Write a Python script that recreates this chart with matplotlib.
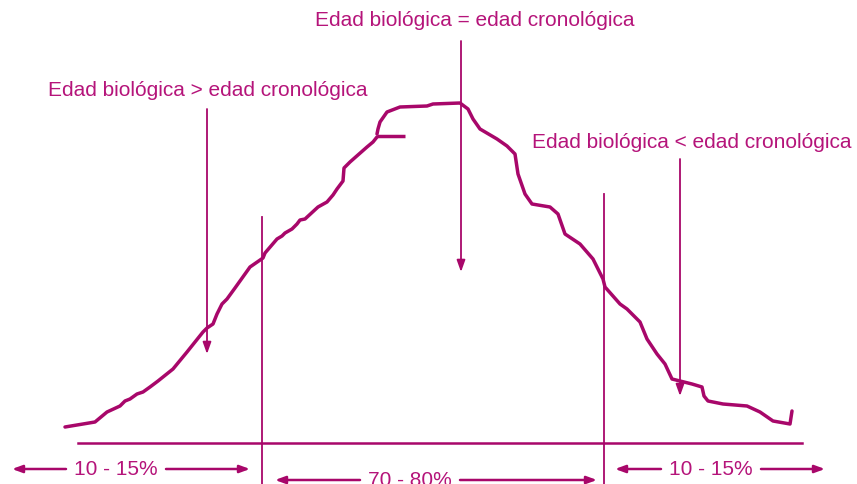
"""Distribución edad biológica vs cronológica (esquema dibujado a mano)."""
import matplotlib
matplotlib.use("Agg")
import matplotlib.pyplot as plt

C = "#a8076a"
C_TXT = "#b5147a"
plt.rcParams["font.family"] = ["Liberation Sans", "DejaVu Sans"]

# curva principal (coordenadas en píxeles de la imagen, y hacia abajo)
curve_x = [65, 95, 107, 120, 125, 130, 137, 143, 150, 158, 173, 187, 203, 207, 213, 217, 222, 227,
           235, 245, 250, 263, 265, 277, 282, 285, 292, 297, 300, 305, 318, 327, 333, 337, 343, 344,
           350, 367, 373, 377]
curve_y = [428, 423, 413, 407, 402, 400, 395, 393, 388, 382, 370, 353, 333, 329, 325, 315, 305, 300,
           289, 275, 268, 259, 254, 240, 237, 234, 230, 225, 221, 220, 208, 203, 196, 190, 182, 169,
           163, 148, 143, 138]
# rizo en la cima y bajada derecha
hook_x = [377, 378, 380, 387, 400, 427, 433, 460, 468, 473, 480, 497, 507, 515, 518, 525, 532, 550,
          558, 565, 580, 593, 598, 603, 605, 620, 627, 640, 647, 657, 665, 672, 680, 692, 702, 704,
          708, 723, 747, 760, 773, 790, 792]
hook_y = [135, 130, 123, 113, 108, 107, 105, 104, 110, 120, 130, 140, 147, 155, 175, 195, 205, 208,
          215, 235, 245, 260, 270, 280, 288, 305, 310, 323, 340, 355, 365, 380, 382, 385, 388, 397,
          402, 405, 407, 413, 422, 425, 412]
tick_x = [377, 405]
tick_y = [137, 137]

# líneas verticales de corte y flechas de etiqueta
cut_x = [262, 604]
cut_top = [218, 195]
label_arrow_x = [207, 461, 680]
label_arrow_top = [110, 42, 160]
label_arrow_tip = [355, 273, 397]
labels = ["Edad biológica > edad cronológica", "Edad biológica = edad cronológica",
          "Edad biológica < edad cronológica"]
label_pos = [(48, 91), (475, 21), (532, 143)]
label_ha = ["left", "center", "left"]

pct_labels = ["10 - 15%", "70 - 80%", "10 - 15%"]
pct_span = [(12, 250), (275, 597), (615, 825)]
pct_center = [116, 410, 711]
pct_y = [470, 481, 470]
pct_gap = 50

fig = plt.figure(figsize=(8.57, 4.85), dpi=100)
ax = fig.add_axes([0, 0, 1, 1])
ax.set_xlim(0, 857)
ax.set_ylim(485, 0)
ax.axis("off")

ax.plot(curve_x, curve_y, color=C, lw=2.5, solid_capstyle="round", solid_joinstyle="round")
ax.plot(hook_x, hook_y, color=C, lw=2.5, solid_capstyle="round", solid_joinstyle="round")
ax.plot(tick_x, tick_y, color=C, lw=2.5, solid_capstyle="butt")

ax.plot([78, 802], [444, 444], color=C, lw=1.8)
for x, top in zip(cut_x, cut_top):
    ax.plot([x, x], [top, 485], color=C, lw=1.3)

for x, top, tip in zip(label_arrow_x, label_arrow_top, label_arrow_tip):
    ax.annotate("", xy=(x, tip), xytext=(x, top),
                arrowprops=dict(arrowstyle="-|>,head_length=0.7,head_width=0.25", color=C, lw=1.3,
                                shrinkA=0, shrinkB=0))

for txt, (x, y), ha in zip(labels, label_pos, label_ha):
    ax.text(x, y, txt, color=C_TXT, fontsize=15, ha=ha, va="center")

for txt, (a, b), cx, y in zip(pct_labels, pct_span, pct_center, pct_y):
    for start, end in ((cx - pct_gap, a), (cx + pct_gap, b)):
        ax.annotate("", xy=(end, y), xytext=(start, y),
                    arrowprops=dict(arrowstyle="-|>,head_length=0.6,head_width=0.22", color=C, lw=1.8,
                                    shrinkA=0, shrinkB=0))
    ax.text(cx, y, txt, color=C_TXT, fontsize=15, ha="center", va="center")

fig.savefig("out.png", dpi=100)
